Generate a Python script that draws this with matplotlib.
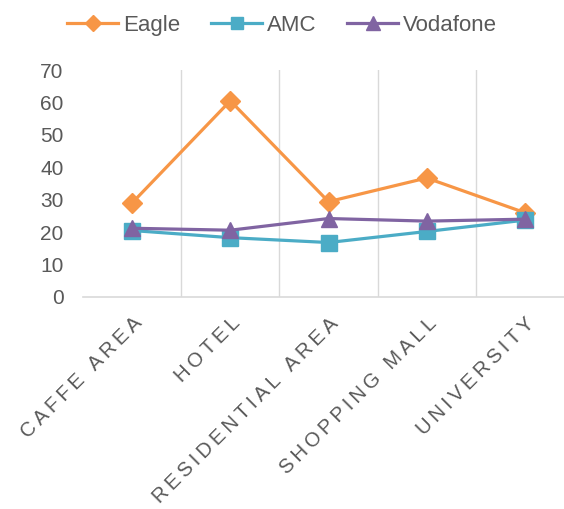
import matplotlib.pyplot as plt
from matplotlib.ticker import MultipleLocator, FixedLocator

categories = ["CAFFE AREA", "HOTEL", "RESIDENTIAL AREA", "SHOPPING MALL", "UNIVERSITY"]
eagle = [29, 60.5, 29.4, 36.7, 26]
amc = [20.5, 18.3, 16.8, 20.2, 23.7]
vodafone = [21.2, 20.6, 24.2, 23.4, 24]

plt.rcParams["font.family"] = ["Liberation Sans", "DejaVu Sans"]
grey = "#595959"
fig = plt.figure(figsize=(5.64, 5.09), dpi=100)
ax = fig.add_axes([83/564, 1-297/509, (574-83)/564, (297-70)/509])

x = list(range(len(categories)))
ax.plot(x, eagle, color="#F79646", lw=2.3, marker="D", ms=10, label="Eagle", zorder=3)
ax.plot(x, amc, color="#4BACC6", lw=2.3, marker="s", ms=11, label="AMC", zorder=4)
ax.plot(x, vodafone, color="#8064A2", lw=2.3, marker="^", ms=12, label="Vodafone", zorder=5)

# spaced-out category labels like the original
spaced = ["\u2009".join(c) for c in categories]

ax.set_xlim(-0.5, len(categories) - 0.5)
ax.set_ylim(0, 70)
ax.yaxis.set_major_locator(MultipleLocator(10))
ax.set_xticks(x)
ax.set_xticklabels(spaced, rotation=45, ha="right", rotation_mode="anchor")
ax.xaxis.set_minor_locator(FixedLocator([i + 0.5 for i in range(len(categories) - 1)]))
ax.grid(which="minor", axis="x", color="#D9D9D9", lw=1)
ax.tick_params(which="both", length=0)
ax.tick_params(axis="y", labelsize=15, labelcolor=grey, pad=14)
ax.tick_params(axis="x", labelsize=14.6, labelcolor=grey, pad=12)
for s in ["top", "right", "left"]:
    ax.spines[s].set_visible(False)
ax.spines["bottom"].set_color("#D9D9D9")
ax.spines["bottom"].set_linewidth(1.2)

fig.legend(loc="upper center", bbox_to_anchor=(0.5, 1.01), ncol=3, frameon=False,
           fontsize=16, labelcolor=grey, handlelength=2.3, columnspacing=1.4,
           handletextpad=0.2, markerscale=0.8)

fig.savefig("out.png", dpi=100)
